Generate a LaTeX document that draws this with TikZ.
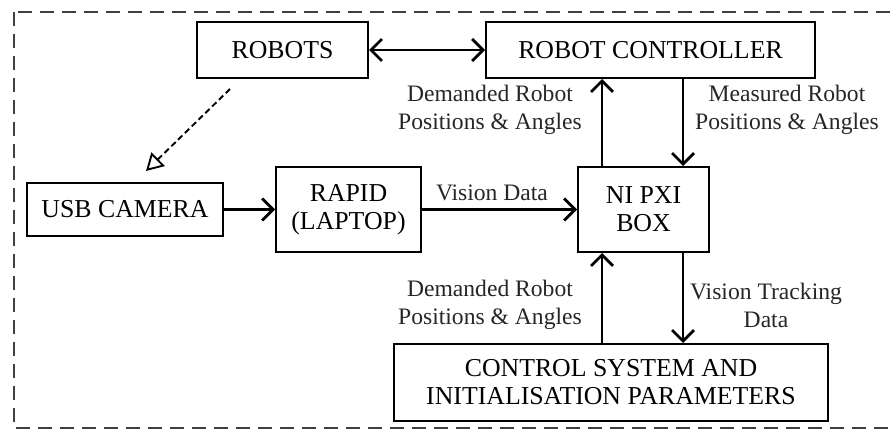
\documentclass[tikz,border=0pt]{standalone}
\usepackage{fontspec}
\setmainfont{Liberation Serif}
\usetikzlibrary{arrows.meta}
\begin{document}
\begin{tikzpicture}[x=1pt,y=-1pt,
  blk/.style={draw=black,line width=2pt,align=center,inner sep=0pt,font=\fontsize{25.8}{28}\selectfont},
  lbl/.style={align=center,inner sep=0pt,text=black!85,font=\fontsize{23.6}{28}\selectfont},
  tip/.tip={Straight Barb[length=11pt,width=22pt,line width=2.8pt]},
  arr/.style={line width=2.8pt,-tip},
  darr/.style={line width=2.6pt,tip-tip},
  varr/.style={line width=1.9pt,dash pattern=on 6pt off 3.5pt,-{Triangle[open,length=17pt,width=19pt,line width=1.9pt]}}]
\useasboundingbox (0,0) rectangle (892,431);
\begin{scope}
\clip (0,0) rectangle (892,431);
\draw[line width=2.2pt,draw=black!75,dash pattern=on 14pt off 8pt] (14,12) rectangle (905,428);
\end{scope}
\node[blk,minimum width=171pt,minimum height=56pt] (robots) at (282.5,50) {ROBOTS};
\node[blk,minimum width=329pt,minimum height=56pt] (rc) at (650.5,50) {ROBOT CONTROLLER};
\node[blk,minimum width=196pt,minimum height=53pt] (cam) at (125,209.5) {USB CAMERA};
\node[blk,minimum width=145pt,minimum height=85pt] (rapid) at (348.5,209.5) {RAPID\\(LAPTOP)};
\node[blk,minimum width=131pt,minimum height=85pt] (ni) at (643.5,209.5) {NI PXI\\BOX};
\node[blk,minimum width=434pt,minimum height=77pt] (ctrl) at (611,382.5) {CONTROL SYSTEM AND\\INITIALISATION PARAMETERS};
\draw[darr] (robots.east) -- (rc.west |- robots.east);
\coordinate (rs) at ([xshift=-52.5pt,yshift=-10pt]robots.south);
\coordinate (ce) at ([xshift=21pt,yshift=11pt]cam.north);
\draw[varr] (rs) -- (ce);
\draw[arr] (cam.east) -- (rapid.west |- cam.east);
\draw[arr] (rapid.east) -- (ni.west |- rapid.east);
\node[lbl] (vd) at (492,193) {Vision Data};
\coordinate (u1) at ([xshift=-41.5pt]ni.north);
\coordinate (d1) at ([xshift=39.5pt]ni.north);
\draw[arr] (u1) -- (u1 |- rc.south);
\draw[arr] (d1 |- rc.south) -- (d1);
\coordinate (u2) at ([xshift=-41.5pt]ni.south);
\coordinate (d2) at ([xshift=39.5pt]ni.south);
\draw[arr] (u2 |- ctrl.north) -- (u2);
\draw[arr] (d2) -- (d2 |- ctrl.north);
\node[lbl] (l1) at (490,110) {Demanded Robot\\Positions \& Angles};
\node[lbl] (l2) at (787,110) {Measured Robot\\Positions \& Angles};
\node[lbl] (l3) at (490,305) {Demanded Robot\\Positions \& Angles};
\node[lbl] (l4) at (766,305) {Vision Tracking\\Data};
\end{tikzpicture}
\end{document}
